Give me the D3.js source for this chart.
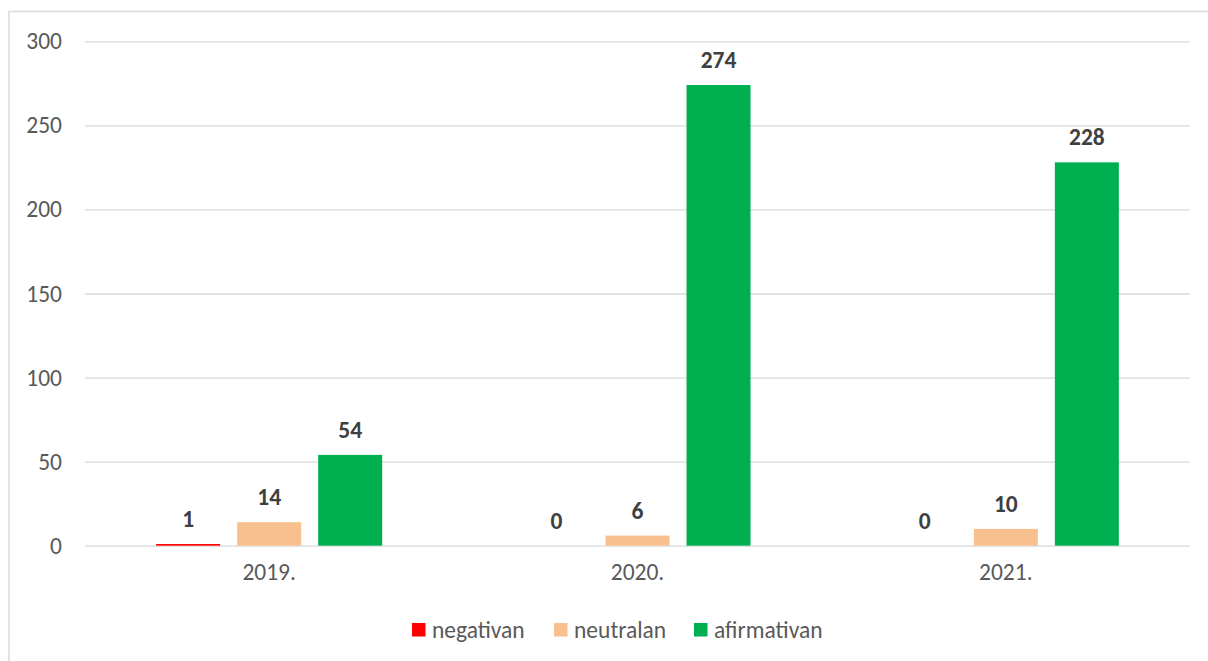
<!DOCTYPE html>
<html>
<head>
<meta charset="utf-8">
<script src="https://cdn.jsdelivr.net/npm/d3@7"></script>
<style>
  html, body { margin: 0; padding: 0; background: #fff; }
  svg { display: block; }
  text { font-family: Carlito, Lato, "Open Sans", sans-serif; }
</style>
</head>
<body>
<svg id="chart" width="1208" height="661"></svg>
<script>
const categories = ["2019.", "2020.", "2021."];
const seriesNames = ["negativan", "neutralan", "afirmativan"];
const negativan = [1, 0, 0];
const neutralan = [14, 6, 10];
const afirmativan = [54, 274, 228];
const yTicks = [0, 50, 100, 150, 200, 250, 300];
const colors = ["#ff0000", "#f9c08f", "#00b050"];

const seriesValues = [negativan, neutralan, afirmativan];
const data = categories.map((c, i) => ({
  cat: c,
  vals: seriesNames.map((s, j) => ({ key: s, idx: j, value: seriesValues[j][i] }))
}));

const svg = d3.select("#chart");

// outer frame
svg.append("rect")
  .attr("x", 9).attr("y", 11.5)
  .attr("width", 1220).attr("height", 700)
  .attr("fill", "none").attr("stroke", "#d9d9d9").attr("stroke-width", 1.5);

const plotLeft = 85, plotRight = 1190, plotTop = 41.3, plotBottom = 545.7;
const fs = "23.5px";

const y = d3.scaleLinear().domain([0, 300]).range([plotBottom, plotTop]);
const x0 = d3.scaleBand().domain(categories).range([plotLeft, plotRight]).paddingInner(0).paddingOuter(0);
const x1 = d3.scaleBand().domain(seriesNames).range([0, x0.bandwidth()]).paddingInner(0.21).paddingOuter(0.878);

// gridlines
const yAxis = d3.axisLeft(y).tickValues(yTicks).tickSize(-(plotRight - plotLeft)).tickPadding(23);
const gy = svg.append("g").attr("transform", `translate(${plotLeft},0)`).call(yAxis);
gy.select(".domain").remove();
gy.selectAll(".tick line").attr("stroke", "#d9d9d9").attr("stroke-width", 1.3);
gy.selectAll(".tick text").attr("fill", "#595959").style("font-size", fs);

// x axis
const xAxis = d3.axisBottom(x0).tickSize(0).tickPadding(18);
const gx = svg.append("g").attr("transform", `translate(0,${plotBottom})`).call(xAxis);
gx.select(".domain").remove();
gx.selectAll(".tick text").attr("fill", "#595959").style("font-size", fs);

// bars
const groups = svg.append("g").selectAll("g").data(data).join("g")
  .attr("transform", d => `translate(${x0(d.cat)},0)`);

groups.selectAll("rect").data(d => d.vals).join("rect")
  .attr("x", d => x1(d.key))
  .attr("width", x1.bandwidth())
  .attr("y", d => y(d.value))
  .attr("height", d => y(0) - y(d.value))
  .attr("fill", d => colors[d.idx]);

groups.selectAll("text.lbl").data(d => d.vals).join("text")
  .attr("class", "lbl")
  .attr("x", d => x1(d.key) + x1.bandwidth() / 2)
  .attr("y", d => y(d.value) - 17)
  .attr("text-anchor", "middle")
  .attr("fill", "#404040")
  .style("font-size", fs)
  .style("font-weight", "bold")
  .text(d => d.value);

// legend
const legendX = [412, 554, 694];
const lg = svg.append("g").selectAll("g").data(seriesNames).join("g")
  .attr("transform", (d, i) => `translate(${legendX[i]},623)`);
lg.append("rect").attr("width", 13.5).attr("height", 13.5).attr("fill", (d, i) => colors[i]);
lg.append("text").attr("x", 20).attr("y", 15)
  .attr("fill", "#595959").style("font-size", fs).text(d => d);
</script>
</body>
</html>
